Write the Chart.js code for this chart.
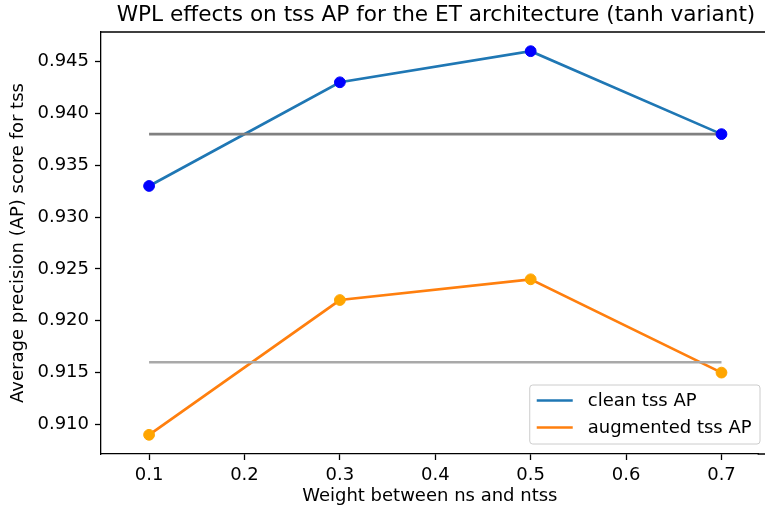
<!DOCTYPE html>
<html>
<head>
<meta charset="utf-8">
<script src="https://cdn.jsdelivr.net/npm/chart.js@4.4.1/dist/chart.umd.min.js"></script>
<style>
  html, body { margin: 0; padding: 0; background: #fff; }
</style>
</head>
<body>
<canvas id="myChart" width="765" height="510"></canvas>
<script>
  // values
  const weights = [0.1, 0.3, 0.5, 0.7];
  const cleanAP = [0.933, 0.943, 0.946, 0.938];
  const augmentedAP = [0.909, 0.922, 0.924, 0.915];
  const baselineX = [0.1, 0.7];
  const cleanBaseline = [0.938, 0.938];
  const augmentedBaseline = [0.916, 0.916];
  const xTicks = [0.1, 0.2, 0.3, 0.4, 0.5, 0.6, 0.7];
  const yTicks = [0.910, 0.915, 0.920, 0.925, 0.930, 0.935, 0.940, 0.945];

  const FONT = 'DejaVu Sans';
  const tickFont = { family: FONT, size: 18 };

  function toPoints(xs, ys) {
    return xs.map((x, i) => ({ x: x, y: ys[i] }));
  }

  // title, top spine, spine run-out and legend drawn by hand, matplotlib style
  const decorations = {
    id: 'decorations',
    afterDatasetsDraw(chart) {
      const ctx = chart.ctx;
      const area = chart.chartArea;
      ctx.save();

      // the axes box runs off the right edge of the picture
      ctx.strokeStyle = '#000';
      ctx.lineWidth = 1.3;
      ctx.beginPath();
      ctx.moveTo(area.left, area.top);
      ctx.lineTo(chart.width, area.top);
      ctx.moveTo(area.right - 1, area.bottom);
      ctx.lineTo(chart.width, area.bottom);
      ctx.stroke();

      // title, centred on the (cropped) axes
      ctx.fillStyle = '#000';
      ctx.font = '21.6px "' + FONT + '"';
      ctx.textAlign = 'center';
      ctx.textBaseline = 'alphabetic';
      ctx.fillText('WPL effects on tss AP for the ET architecture (tanh variant)', 436, 21);

      // legend
      const items = chart.data.datasets.filter(d => d.inLegend);
      ctx.font = '18px "' + FONT + '"';
      let textW = 0;
      items.forEach(d => { textW = Math.max(textW, ctx.measureText(d.label).width); });
      const right = 760, bottom = 444, rowH = 27;
      const boxW = 7 + 36 + 14.4 + textW + 9;
      const boxH = 59;
      const left = right - boxW, top = bottom - boxH;
      ctx.beginPath();
      ctx.roundRect(left, top, boxW, boxH, 3);
      ctx.fillStyle = 'rgba(255,255,255,0.8)';
      ctx.fill();
      ctx.strokeStyle = '#cccccc';
      ctx.lineWidth = 1;
      ctx.stroke();
      items.forEach((d, i) => {
        const y = top + 15.5 + i * rowH;
        ctx.strokeStyle = d.borderColor;
        ctx.lineWidth = 2.7;
        ctx.beginPath();
        ctx.moveTo(left + 7, y);
        ctx.lineTo(left + 43, y);
        ctx.stroke();
        ctx.fillStyle = '#000';
        ctx.textAlign = 'left';
        ctx.textBaseline = 'middle';
        ctx.fillText(d.label, left + 58, y + 1);
      });
      ctx.restore();
    }
  };

  new Chart('myChart', {
    type: 'line',
    data: {
      datasets: [
        {
          label: 'clean tss AP',
          inLegend: true,
          data: toPoints(weights, cleanAP),
          borderColor: '#1f77b4',
          borderWidth: 2.7,
          pointRadius: 0,
          order: 3
        },
        {
          label: 'augmented tss AP',
          inLegend: true,
          data: toPoints(weights, augmentedAP),
          borderColor: '#ff7f0e',
          borderWidth: 2.7,
          pointRadius: 0,
          order: 3
        },
        {
          label: 'clean baseline',
          data: toPoints(baselineX, cleanBaseline),
          borderColor: '#808080',
          borderWidth: 2.7,
          pointRadius: 0,
          order: 2
        },
        {
          label: 'augmented baseline',
          data: toPoints(baselineX, augmentedBaseline),
          borderColor: '#a9a9a9',
          borderWidth: 2.7,
          pointRadius: 0,
          order: 2
        },
        {
          label: 'clean points',
          data: toPoints(weights, cleanAP),
          showLine: false,
          pointRadius: 5.4,
          pointBorderWidth: 1,
          pointBackgroundColor: 'blue',
          pointBorderColor: 'blue',
          order: 1
        },
        {
          label: 'augmented points',
          data: toPoints(weights, augmentedAP),
          showLine: false,
          pointRadius: 5.4,
          pointBorderWidth: 1,
          pointBackgroundColor: 'orange',
          pointBorderColor: 'orange',
          order: 1
        }
      ]
    },
    options: {
      responsive: false,
      animation: false,
      devicePixelRatio: 1,
      layout: { padding: { left: 0, right: 0, top: 32, bottom: 0 } },
      plugins: {
        legend: { display: false },
        tooltip: { enabled: false },
        title: { display: false }
      },
      scales: {
        x: {
          type: 'linear',
          min: 0.0496,
          max: 0.7389,
          afterBuildTicks: function (scale) {
            scale.ticks = xTicks.map(v => ({ value: v }));
          },
          afterFit: function (scale) {
            scale.height = 56;
          },
          border: { color: '#000', width: 1.3 },
          grid: {
            drawOnChartArea: false,
            drawTicks: true,
            tickLength: 6,
            tickWidth: 1.3,
            tickColor: '#000'
          },
          ticks: {
            color: '#000',
            font: tickFont,
            padding: 5,
            maxRotation: 0,
            autoSkip: false,
            callback: v => v.toFixed(1)
          },
          title: {
            display: true,
            text: 'Weight between ns and ntss',
            color: '#000',
            font: tickFont,
            padding: { top: 0, bottom: 3 }
          }
        },
        y: {
          type: 'linear',
          min: 0.90715,
          max: 0.94785,
          afterBuildTicks: function (scale) {
            scale.ticks = yTicks.map(v => ({ value: v }));
          },
          afterFit: function (scale) {
            scale.width = 101;
          },
          border: { color: '#000', width: 1.3 },
          grid: {
            drawOnChartArea: false,
            drawTicks: true,
            tickLength: 6,
            tickWidth: 1.3,
            tickColor: '#000'
          },
          ticks: {
            color: '#000',
            font: tickFont,
            padding: 6,
            autoSkip: false,
            callback: v => v.toFixed(3)
          },
          title: {
            display: true,
            text: 'Average precision (AP) score for tss',
            color: '#000',
            font: tickFont,
            padding: { top: 8, bottom: 0 }
          }
        }
      }
    },
    plugins: [decorations]
  });
</script>
</body>
</html>
